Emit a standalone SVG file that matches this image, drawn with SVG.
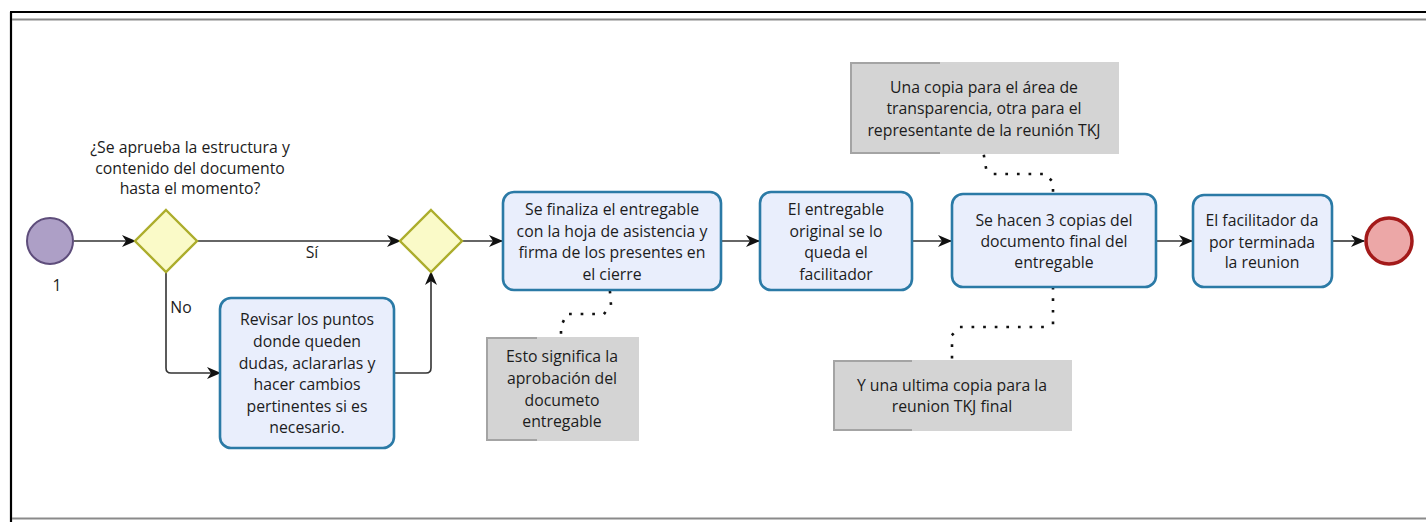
<svg xmlns="http://www.w3.org/2000/svg" width="1426" height="522" viewBox="0 0 1426 522">
<style>
text{font-family:"Open Sans","Noto Sans","Liberation Sans",sans-serif;font-size:15.8px;fill:#1c1c1c;text-anchor:middle}
.task{fill:#e9eefc;stroke:#2b7aa6;stroke-width:2.6}
.gw{fill:#fafac8;stroke:#acad2c;stroke-width:2.4}
.ann{fill:#d4d4d4}
.annb{fill:none;stroke:#a4a4a4;stroke-width:2}
.flow{fill:none;stroke:#333;stroke-width:1.6}
.assoc{fill:none;stroke:#111;stroke-width:2.6;stroke-dasharray:0.1 11.5;stroke-linecap:square}
</style>
<defs>
<marker id="arr" viewBox="0 0 14 14" refX="13" refY="7" markerWidth="14" markerHeight="14" markerUnits="userSpaceOnUse" orient="auto">
<path d="M0,1 L14,7 L0,13 L4,7 Z" fill="#111"/>
</marker>
</defs>
<rect x="0" y="0" width="1426" height="522" fill="#fff"/>
<g id="pool">
<line x1="10" y1="12" x2="1426" y2="12" stroke="#000" stroke-width="2.2"/>
<line x1="11" y1="12" x2="11" y2="522" stroke="#000" stroke-width="2.2"/>
<line x1="12" y1="19.5" x2="1426" y2="19.5" stroke="#8a8a8a" stroke-width="1.8"/>
<line x1="12" y1="518.5" x2="1426" y2="518.5" stroke="#8a8a8a" stroke-width="1.8"/>
</g>
<g id="connectors">
<line class="flow" x1="74" y1="241" x2="135" y2="241" marker-end="url(#arr)"/>
<line class="flow" x1="197" y1="241" x2="400" y2="241" marker-end="url(#arr)"/>
<text x="312" y="258">Sí</text>
<path class="flow" d="M166,271 V368 Q166,373 171,373 H220" marker-end="url(#arr)"/>
<text x="181" y="313">No</text>
<path class="flow" d="M394,373 H426 Q431,373 431,368 V272" marker-end="url(#arr)"/>
<line class="flow" x1="462" y1="241" x2="502" y2="241" marker-end="url(#arr)"/>
<line class="flow" x1="721" y1="241" x2="759" y2="241" marker-end="url(#arr)"/>
<line class="flow" x1="912" y1="241" x2="951" y2="241" marker-end="url(#arr)"/>
<line class="flow" x1="1156" y1="241" x2="1192" y2="241" marker-end="url(#arr)"/>
<line class="flow" x1="1332" y1="241" x2="1364" y2="241" marker-end="url(#arr)"/>
<path class="assoc" d="M610,292 L611,305 L604,314 L567,314 L561,326 L561,336"/>
<path class="assoc" d="M984,156 L986,168 L994,174 L1045,174 L1053,182 L1053,194"/>
<path class="assoc" d="M1053,288 L1053,323 L1045,327 L960,327 L952,335 L952,359"/>
</g>
<g id="start">
<circle cx="50" cy="241" r="23" fill="#ad9fc6" stroke="#5e4d7b" stroke-width="2"/>
<text x="57" y="291">1</text>
</g>
<g id="gateway1">
<path class="gw" d="M166,210 L197,241 L166,272 L135,241 Z"/>
<text><tspan x="190" y="153">¿Se aprueba la estructura y</tspan><tspan x="190" y="174">contenido del documento</tspan><tspan x="190" y="194">hasta el momento?</tspan></text>
</g>
<g id="revisar">
<rect class="task" x="220" y="298" width="174" height="150" rx="11"/>
<text><tspan x="307" y="325">Revisar los puntos</tspan><tspan x="307" y="347">donde queden</tspan><tspan x="307" y="369">dudas, aclararlas y</tspan><tspan x="307" y="390">hacer cambios</tspan><tspan x="307" y="412">pertinentes si es</tspan><tspan x="307" y="433">necesario.</tspan></text>
</g>
<g id="gateway2">
<path class="gw" d="M431,210 L462,241 L431,272 L400,241 Z"/>
</g>
<g id="finaliza">
<rect class="task" x="503" y="192" width="218" height="98" rx="11"/>
<text><tspan x="612" y="215">Se finaliza el entregable</tspan><tspan x="612" y="237">con la hoja de asistencia y</tspan><tspan x="612" y="258">firma de los presentes en</tspan><tspan x="612" y="280">el cierre</tspan></text>
</g>
<g id="original">
<rect class="task" x="760" y="192" width="152" height="98" rx="11"/>
<text><tspan x="836" y="215">El entregable</tspan><tspan x="836" y="237">original se lo</tspan><tspan x="836" y="258">queda el</tspan><tspan x="836" y="280">facilitador</tspan></text>
</g>
<g id="copias">
<rect class="task" x="952" y="194" width="204" height="93" rx="11"/>
<text><tspan x="1054" y="226">Se hacen 3 copias del</tspan><tspan x="1054" y="247">documento final del</tspan><tspan x="1054" y="268">entregable</tspan></text>
</g>
<g id="termina">
<rect class="task" x="1193" y="195" width="139" height="92" rx="11"/>
<text><tspan x="1262" y="226">El facilitador da</tspan><tspan x="1262" y="248">por terminada</tspan><tspan x="1262" y="268">la reunion</tspan></text>
</g>
<g id="end">
<circle cx="1389" cy="241" r="23" fill="#eca7a7" stroke="#a31a1a" stroke-width="3.5"/>
</g>
<g id="ann1">
<rect class="ann" x="486" y="337" width="153" height="104"/>
<path class="annb" d="M537,338 H487 V440 H537"/>
<text><tspan x="562" y="362">Esto significa la</tspan><tspan x="562" y="384">aprobación del</tspan><tspan x="562" y="406">documeto</tspan><tspan x="562" y="427">entregable</tspan></text>
</g>
<g id="ann2">
<rect class="ann" x="850" y="62" width="269" height="92"/>
<path class="annb" d="M940,63 H851 V153 H940"/>
<text><tspan x="984" y="93">Una copia para el área de</tspan><tspan x="984" y="114">transparencia, otra para el</tspan><tspan x="984" y="136">representante de la reunión TKJ</tspan></text>
</g>
<g id="ann3">
<rect class="ann" x="833" y="360" width="239" height="71"/>
<path class="annb" d="M912,361 H834 V430 H912"/>
<text><tspan x="952" y="391">Y una ultima copia para la</tspan><tspan x="952" y="412">reunion TKJ final</tspan></text>
</g>
</svg>
